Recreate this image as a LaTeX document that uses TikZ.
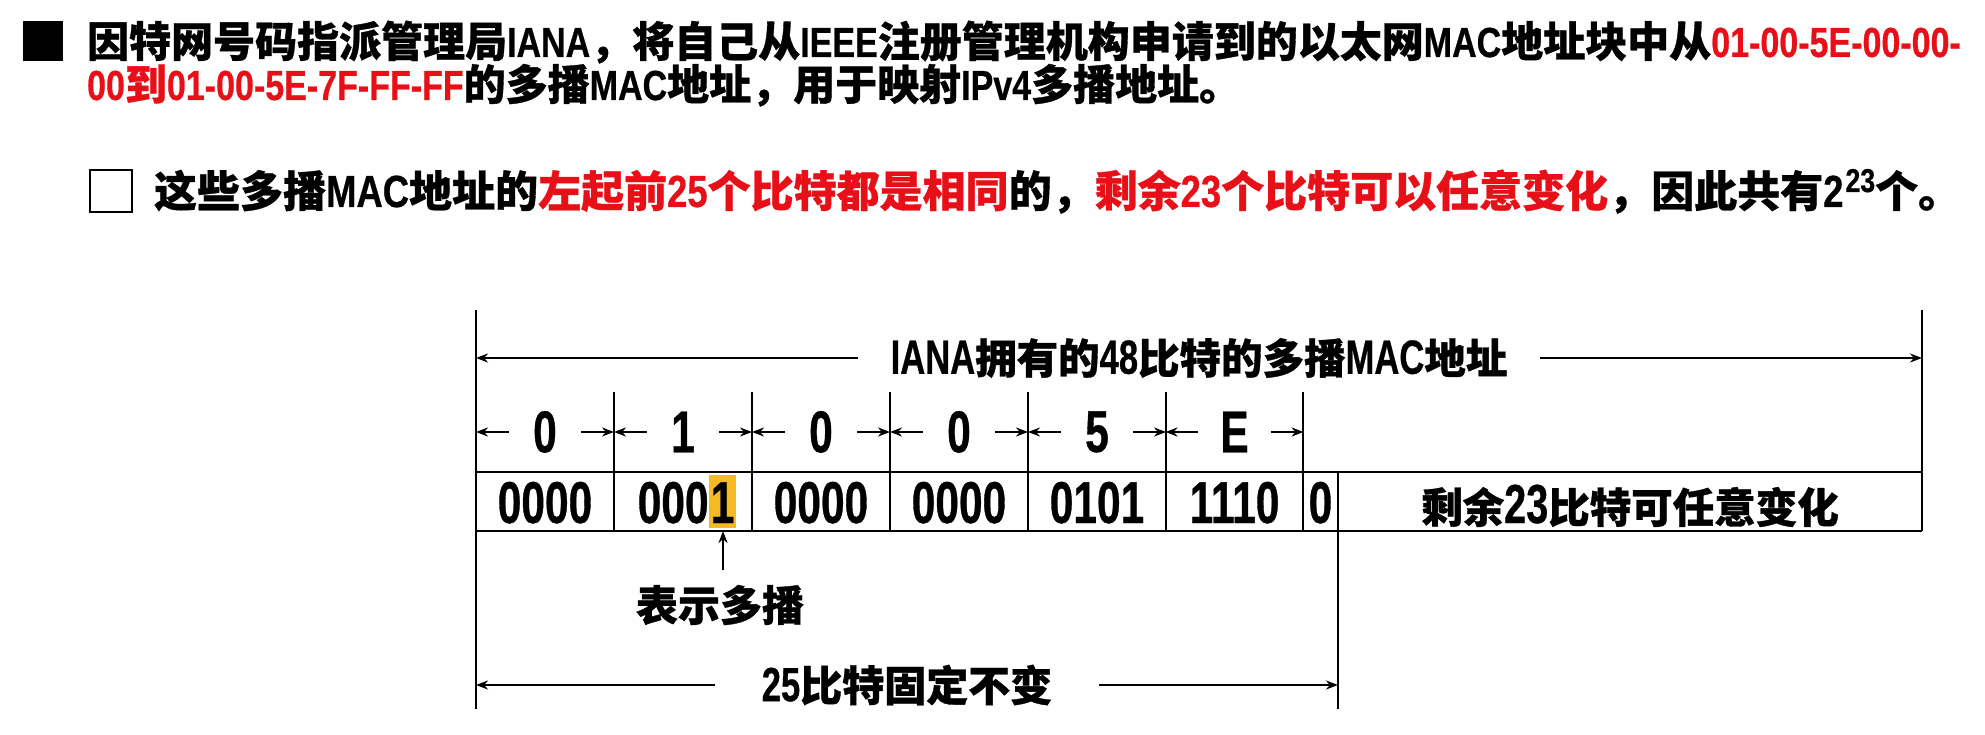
\documentclass[tikz,border=0pt]{standalone}
\usepackage{fontspec}
\setmainfont{Liberation Sans Bold}[FakeStretch=0.81,FakeBold=0.6]
\newfontfamily\tbl{Liberation Sans Bold}[FakeStretch=0.72,FakeBold=0.6]
\newfontfamily\cjk{Noto Sans CJK SC}[BoldFeatures={FakeBold=0.8}]
\usetikzlibrary{arrows.meta}
\definecolor{myred}{RGB}{232,16,24}
\definecolor{myorange}{RGB}{245,185,35}
\newcommand\C[2][42]{{\cjk\fontsize{#1}{#1}\selectfont\bfseries #2}}
\newcommand\R[1]{\textcolor{myred}{#1}}
\begin{document}
\begin{tikzpicture}[x=1pt,y=-1pt,
  line width=2.2pt,
  arr/.style={-{Stealth[length=12pt,width=9pt]}},
  para/.style={anchor=base west,inner sep=0pt},
  hexlab/.style={inner sep=0pt,minimum width=70pt,font=\tbl\fontsize{59}{59}\selectfont},
  cell/.style={anchor=base,inner sep=0pt,font=\tbl\fontsize{59}{59}\selectfont},
  lab/.style={inner sep=0pt}]
\useasboundingbox (0,0) rectangle (1985,735);

% ---------- paragraph text ----------
\node[fill=black,minimum size=40pt,inner sep=0pt] (sq1) at (43,41.5) {};
\node[para,font=\fontsize{42}{42}\selectfont] (p1) at (86,57)
 {\C{因特网号码指派管理局}IANA\C{，将自己从}IEEE\C{注册管理机构申请到的以太网}MAC\C{地址块中从}\R{01-00-5E-00-00-}};
\node[para,font=\fontsize{42}{42}\selectfont] (p2) at (86,100)
 {\R{00\C{到}01-00-5E-7F-FF-FF}\C{的多播}MAC\C{地址，用于映射}IPv4\C{多播地址。}};

\node[draw,line width=2pt,minimum size=42pt,inner sep=0pt] (sq2) at (111,191) {};
\node[para,font=\fontsize{45}{45}\selectfont] (p3) at (153,207)
 {\C[43]{这些多播}MAC\C[43]{地址的}\R{\C[43]{左起前}25\C[43]{个比特都是相同}}\C[43]{的，}\R{\C[43]{剩余}23\C[43]{个比特可以任意变化}}\C[43]{，因此共有}2\kern2pt\raisebox{15pt}{\fontsize{33}{33}\selectfont 23}\C[43]{个。}};

% ---------- diagram frame ----------
\coordinate (Ltop) at (476,310);
\coordinate (Lbot) at (476,709);
\coordinate (Rtop) at (1922,310);
\coordinate (Rbot) at (1922,531);
\coordinate (TL) at (476,472);
\coordinate (TR) at (1922,472);
\coordinate (BL) at (476,531);
\coordinate (BR) at (1922,531);
\coordinate (Mtop) at (1338,472);
\coordinate (Mbot) at (1338,709);
\draw (Ltop) -- (Lbot);
\draw (Rtop) -- (Rbot);
\draw (TL) -- (TR);
\draw (BL) -- (BR);
\draw (Mtop) -- (Mbot);
\foreach \x in {614,752,890,1028,1166,1303} {
  \draw (\x,392) -- (\x,531);
}

% ---------- top label ----------
\node[lab,font=\tbl\fontsize{48}{48}\selectfont] (tl) at (1199,358)
 {IANA\C[41.5]{拥有的}48\C[41.5]{比特的多播}MAC\C[41.5]{地址}};
\coordinate (TA1) at (476,358);
\coordinate (TA2) at (1922,358);
\draw[arr] ([xshift=-32pt]tl.west) -- (TA1);
\draw[arr] ([xshift=32pt]tl.east) -- (TA2);

% ---------- hex row ----------
\foreach \cx/\lab [count=\i] in {545/0,683/1,821/0,959/0,1097/5,1234.5/E} {
  \node[hexlab] (h\i) at (\cx,432) {\lab};
  \coordinate (hl\i) at ({\cx-69},432);
  \coordinate (hr\i) at ({\cx+69},432);
  \draw[arr] (h\i.west) -- (hl\i);
  \draw[arr] (h\i.east) -- (hr\i);
}

% ---------- table row ----------
\node[cell] (t1) at (545,523) {0000};
\node[cell] (t2) at (687,523) {000{\setlength\fboxsep{2pt}\colorbox{myorange}{\rule[-3pt]{0pt}{49pt}1}}};
\node[cell] (t3) at (821,523) {0000};
\node[cell] (t4) at (959,523) {0000};
\node[cell] (t5) at (1097,523) {0101};
\node[cell] (t6) at (1234.5,523) {1110};
\node[cell] (t7) at (1320.5,523) {0};
\node[cell,font=\tbl\fontsize{55}{55}\selectfont] (t8) at (1630,523)
 {\C[41.5]{剩余}23\C[41.5]{比特可任意变化}};

% ---------- multicast bit ----------
\node[lab] (bs) at (720,605) {\C[42]{表示多播}};
\coordinate (m1) at (723,570);
\coordinate (m2) at (723,531);
\draw[arr] (m1) -- (m2);

% ---------- bottom label ----------
\node[lab,font=\tbl\fontsize{48}{48}\selectfont] (bl) at (907,685)
 {25\C[42]{比特固定不变}};
\coordinate (BA1) at (476,685);
\coordinate (BA2) at (1338,685);
\draw[arr] ([xshift=-46pt]bl.west) -- (BA1);
\draw[arr] ([xshift=46pt]bl.east) -- (BA2);
\end{tikzpicture}
\end{document}
